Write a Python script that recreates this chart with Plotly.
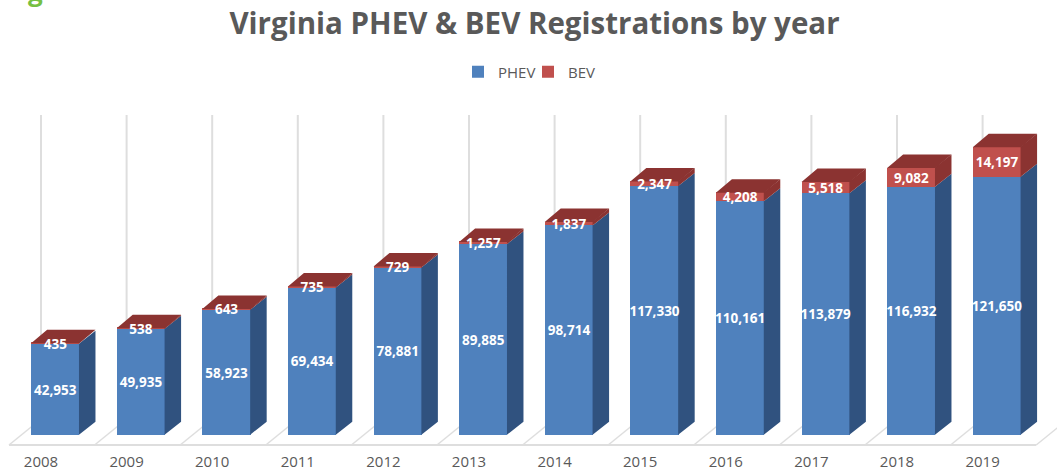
import plotly.graph_objects as go

years = [2008, 2009, 2010, 2011, 2012, 2013, 2014, 2015, 2016, 2017, 2018, 2019]
phev = [42953, 49935, 58923, 69434, 78881, 89885, 98714, 117330, 110161, 113879, 116932, 121650]
bev = [435, 538, 643, 735, 729, 1257, 1837, 2347, 4208, 5518, 9082, 14197]

BLUE, BLUE_DK = "#4f81bd", "#30527f"
RED, RED_DK = "#c0504d", "#8b3331"
GRID, TXT = "#dedede", "#595959"

W, H, B = 1057, 470, 20
PITCH, X0 = 85.6, 55.3          # pixels per category, first bar centre
SCALE, BASE = 0.00212, 434.7    # pixels per vehicle, baseline pixel
xr = [years[0] - X0 / PITCH, years[0] + (W - X0) / PITCH]
yr = [(BASE - (H - B)) / SCALE, BASE / SCALE]
PH = H - B

bw = 0.565
dx, dy = 16 / PITCH, 13 / SCALE            # bar depth
fx0, fy = -46.3 / PITCH, -10.3 / SCALE     # floor front edge offset
bx, by = 32 / PITCH, 26 / SCALE            # floor depth
grid_top = 150800
ov_x, ov_y = 0.5 / PITCH, 0.5 / SCALE      # overlap hiding seams between faces
lab_y = 2 / SCALE                          # label nudge


def side(base, top):
    xs, ys = [], []
    for yr_, b, t in zip(years, base, top):
        r = yr_ + bw / 2
        xs += [r - ov_x, r + dx, r + dx, r - ov_x, r - ov_x, None]
        ys += [b, b + dy, t + dy, t, b, None]
    return xs, ys


def poly(xs, ys, color):
    return go.Scatter(x=xs, y=ys, mode="lines", fill="toself", fillcolor=color,
                      line=dict(width=0, color=color), showlegend=False, hoverinfo="skip")


total = [p + b for p, b in zip(phev, bev)]
zeros = [0] * len(years)

fig = go.Figure()
fig.add_bar(x=years, y=phev, name="PHEV", marker=dict(color=BLUE, line_width=0), width=bw)
fig.add_bar(x=years, y=bev, name="BEV", marker=dict(color=RED, line_width=0), width=bw)

sx, sy = side(zeros, phev)
fig.add_trace(poly(sx, sy, BLUE_DK))
sx, sy = side(phev, total)
fig.add_trace(poly(sx, sy, RED_DK))

tx, ty = [], []
for yr_, t in zip(years, total):
    l, r = yr_ - bw / 2, yr_ + bw / 2
    tx += [l, l + dx, r + dx, r, l, None]
    ty += [t - ov_y, t + dy, t + dy, t - ov_y, t - ov_y, None]
fig.add_trace(poly(tx, ty, RED_DK))

fig.add_trace(go.Scatter(
    x=years + years,
    y=[p / 2 - lab_y for p in phev] + [p + b / 2 - lab_y for p, b in zip(phev, bev)],
    text=[f"{v:,}" for v in phev] + [f"{v:,}" for v in bev],
    mode="text", textposition="middle center",
    textfont=dict(family="Open Sans", size=13.5, color="white", weight="bold"),
    showlegend=False, hoverinfo="skip"))

shapes = []
for i in range(len(years) + 1):
    x = years[0] + i + fx0
    shapes.append(dict(type="line", layer="below", x0=x + bx, x1=x + bx, y0=fy + by, y1=grid_top,
                       line=dict(color=GRID, width=2)))
    shapes.append(dict(type="line", layer="below", x0=x, x1=x + bx, y0=fy, y1=fy + by,
                       line=dict(color=GRID, width=1.5)))
shapes.append(dict(type="line", layer="below", x0=years[0] + fx0, x1=years[-1] + 1 + fx0,
                   y0=fy, y1=fy, line=dict(color=GRID, width=2)))

fig.update_layout(
    width=W, height=H, paper_bgcolor="white", plot_bgcolor="white",
    margin=dict(l=0, r=0, t=0, b=B),
    barmode="stack", bargap=0.435,
    title=dict(text="<b>Virginia PHEV &amp; BEV Registrations by year</b>",
               x=534.5 / W, xanchor="center", y=1 - 24 / H, yanchor="middle", yref="container",
               font=dict(family="Open Sans", size=29.5, color=TXT)),
    legend=dict(orientation="h", x=458 / W, xanchor="left", y=1 - 72 / PH, yanchor="middle",
                font=dict(family="Open Sans", size=15, color=TXT),
                itemwidth=30, traceorder="normal", entrywidth=25, entrywidthmode="pixels"),
    xaxis=dict(range=xr, tickmode="array", tickvals=[y + fx0 + bx for y in years],
               ticktext=[str(y) for y in years], showgrid=False, zeroline=False, showline=False,
               ticks="", automargin=False, ticklabelstandoff=1,
               tickfont=dict(family="Open Sans", size=15, color=TXT)),
    yaxis=dict(range=yr, visible=False),
    shapes=shapes,
    annotations=[dict(text="<b>g</b>", xref="paper", yref="paper", x=35 / W, y=1 + 9 / PH,
                      xanchor="center", yanchor="middle", showarrow=False,
                      font=dict(family="Open Sans", size=26, color="#76c043"))],
)
fig.write_html("out.html", post_script="document.body.style.margin='0';",
               config={"displayModeBar": False})
